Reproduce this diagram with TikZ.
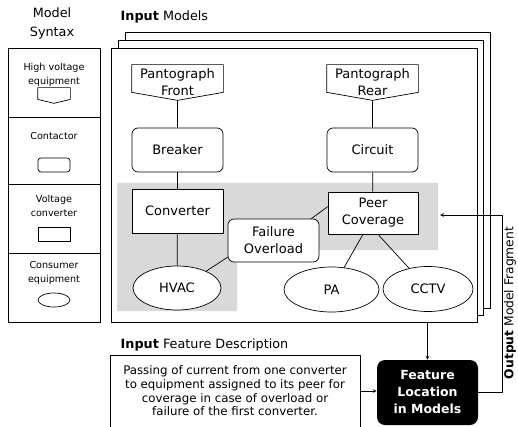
\documentclass[tikz,border=0pt]{standalone}
\usepackage{fontspec}
\setmainfont{DejaVu Sans}
\usetikzlibrary{shapes.geometric}
\definecolor{areagray}{RGB}{217,217,217}

\begin{document}
\begin{tikzpicture}[x=1pt,y=-1pt,line width=0.7pt,
		every node/.style={font=\fontsize{13}{17}\selectfont, align=center},
		conv/.style={draw, fill=white, minimum width=91pt, minimum height=44pt},
		cont/.style={conv, rounded corners=6pt},
		cons/.style={draw, fill=white, ellipse, minimum width=88pt, minimum height=44pt},
		hv/.style={minimum width=91pt, minimum height=35pt, inner sep=0pt},
		small/.style={font=\fontsize{9.6}{14}\selectfont},
		head/.style={font=\fontsize{12.8}{19}\selectfont},
		link/.style={-stealth}]

		\useasboundingbox (0,0) rectangle (518,427);

		% model syntax
		\node[head] (syntax) at (52,23.5) {Model\\Syntax};
		\draw (8,48) rectangle (100,322);
		\foreach \y in {117,184,253}{
				\draw (8,\y) -- (100,\y);
			}
		\node[small] (hvtext) at (54,75) {High voltage\\equipment};
		\node[small] (conttext) at (54,136) {Contactor};
		\node[small] (convtext) at (54,206) {Voltage\\converter};
		\node[small] (constext) at (54,273) {Consumer\\equipment};
		\node[hv, minimum width=32pt, minimum height=15pt] (hvsym) at (54,95.5) {};
		\node[cont, minimum width=32pt, minimum height=14pt, rounded corners=3pt] (contsym) at (54,165) {};
		\node[conv, minimum width=32pt, minimum height=14pt] (convsym) at (54,234) {};
		\node[cons, minimum width=32pt, minimum height=14pt] (conssym) at (54,300) {};
		\draw (hvsym.north west) -- (hvsym.north east) -- ([yshift=4pt]hvsym.south east) -- (hvsym.south) -- ([yshift=4pt]hvsym.south west) -- cycle;

		% input models
		\node[head, anchor=west] (inmodels) at (117,17) {\textbf{Input} Models};
		\foreach \d in {2,1}{
				\draw [fill=white] (111+7*\d,48-8*\d) rectangle (477+6.5*\d,322-7*\d);
			}
		\node[draw, fill=white, minimum width=366pt, minimum height=274pt] (models) at (294,185) {};
		\fill [areagray] (117,183) -- (438,183) -- (438,250) -- (237,250) -- (237,311) -- (117,311) -- cycle;

		\node[hv] (pfront) at (177.5,82.5) {Pantograph\\Front};
		\node[hv] (prear) at (372.5,82.5) {Pantograph\\Rear};
		\foreach \n in {pfront,prear}{
				\draw (\n.north west) -- (\n.north east) -- ([yshift=8pt]\n.south east) -- (\n.south) -- ([yshift=8pt]\n.south west) -- cycle;
			}
		\node[cont] (breaker) at (177.5,150) {Breaker};
		\node[cont] (circuit) at (372.5,150) {Circuit};
		\node[conv] (converter) at (177.5,211) {Converter};
		\node[conv, minimum width=90pt, minimum height=42pt] (peer) at (373,213) {Peer\\Coverage};
		\node[cont, minimum height=43pt] (failure) at (273.5,240.5) {Failure\\Overload};
		\node[cons] (hvac) at (177,288) {HVAC};
		\node[cons, minimum width=95pt, minimum height=45pt] (pa) at (331.5,289.5) {PA};
		\node[cons, minimum width=90pt, minimum height=45pt] (cctv) at (428,289) {CCTV};

		\draw (pfront.south) -- (breaker);
		\draw (breaker) -- (converter);
		\draw (converter) -- (hvac);
		\draw (hvac.30) -- (failure.200);
		\draw (failure.30) -- (peer.172);
		\draw (prear.south) -- (circuit);
		\draw (circuit) -- (peer);
		\draw ([xshift=-10pt]peer.south) -- (pa);
		\draw ([xshift=5pt]peer.south) -- (cctv);

		% feature description and location
		\node[head, anchor=west] (indesc) at (117,345) {\textbf{Input} Feature Description};
		\node[draw, fill=white, font=\fontsize{11.8}{13.7}\selectfont, minimum width=250pt, minimum height=72pt] (desc) at (235,391) {Passing of current from one converter\\to equipment assigned to its peer for\\coverage in case of overload or\\failure of the first converter.};
		\node[fill=black, text=white, rounded corners=8pt, minimum width=101pt, minimum height=65pt, font=\bfseries\fontsize{12.5}{17}\selectfont] (feat) at (427.5,392.5) {Feature\\Location\\in Models};
		\node[head, rotate=90, font=\fontsize{12.3}{15}\selectfont] (outlabel) at (510,303) {\textbf{Output} Model Fragment};
		\coordinate (frag) at (440,215);

		\draw [link] (desc.east) -- (desc.east -| feat.west);
		\draw [link] (feat.north |- models.south) -- (feat.north);
		\draw [link] (feat.east) -- ++(24,0) |- (frag);

		\end{tikzpicture}
\end{document}
